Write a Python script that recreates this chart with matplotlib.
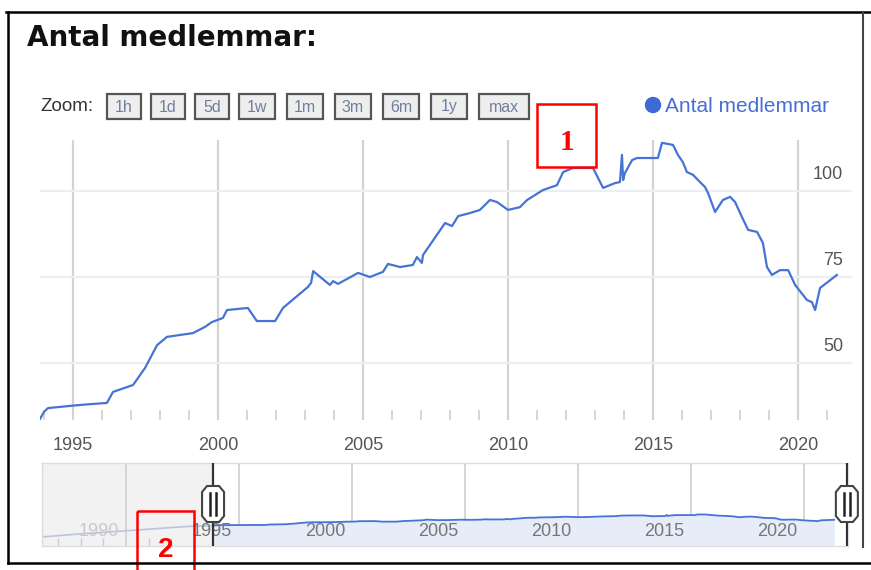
import matplotlib
matplotlib.use("Agg")
import matplotlib.pyplot as plt
from matplotlib.patches import Rectangle, Polygon, Circle

plt.rcParams["font.family"] = ["Liberation Sans", "DejaVu Sans"]

# ---------------- data ----------------
title = "Antal medlemmar:"
series_name = "Antal medlemmar"
zoom_buttons = ["1h", "1d", "5d", "1w", "1m", "3m", "6m", "1y", "max"]

years = [1993.86, 1994.00, 1994.14, 1995.24, 1996.17, 1996.38, 1997.07, 1997.48,
         1997.90, 1998.24, 1999.14, 1999.55, 1999.79, 2000.17, 2000.31, 2001.03,
         2001.34, 2001.97, 2002.24, 2003.10, 2003.21, 2003.28, 2003.86, 2003.97,
         2004.14, 2004.83, 2005.24, 2005.69, 2005.86, 2006.28, 2006.72, 2006.86,
         2007.03, 2007.07, 2007.83, 2008.07, 2008.28, 2008.69, 2009.03, 2009.38,
         2009.62, 2010.00, 2010.41, 2010.66, 2011.21, 2011.69, 2011.90, 2012.24,
         2012.93, 2013.28, 2013.69, 2013.86, 2013.93, 2013.97, 2014.03, 2014.28,
         2014.45, 2015.17, 2015.31, 2015.69, 2015.86, 2016.03, 2016.17, 2016.38,
         2016.62, 2016.79, 2016.90, 2017.14, 2017.41, 2017.66, 2017.83, 2018.07,
         2018.28, 2018.59, 2018.79, 2018.93, 2019.10, 2019.38, 2019.66, 2019.90,
         2020.31, 2020.48, 2020.59, 2020.76, 2021.34]
members = [33.7, 35.8, 36.9, 37.8, 38.4, 41.6, 43.6, 48.5,
           55.2, 57.6, 58.7, 60.5, 61.9, 63.1, 65.4, 66.0,
           62.2, 62.2, 66.0, 72.1, 73.3, 76.7, 72.7, 73.8,
           73.0, 76.2, 75.0, 76.5, 78.8, 77.9, 78.5, 80.8,
           79.1, 81.4, 90.7, 89.8, 92.7, 93.6, 94.5, 97.4,
           96.8, 94.5, 95.3, 97.4, 100.3, 101.7, 105.5, 106.7,
           106.7, 100.9, 102.3, 102.6, 110.5, 103.2, 105.2, 109.0,
           109.6, 109.6, 114.0, 113.4, 110.5, 108.4, 105.5, 104.7,
           102.6, 101.2, 99.4, 93.9, 97.4, 98.3, 96.8, 92.4,
           88.7, 88.1, 84.9, 77.9, 75.6, 77.0, 77.0, 72.7,
           68.3, 67.7, 65.4, 71.8, 75.6]

# navigator overview before the selected range
nav_early_years = [1986.28, 1987.88, 1989.87, 1992.74, 1993.86]
nav_early_values = [-48, -27, -5, 28, 33.7]

major_years = [1995, 2000, 2005, 2010, 2015, 2020]
minor_years = [y for y in range(1994, 2022) if y % 5 != 0]
nav_major_years = [1990, 1995, 2000, 2005, 2010, 2015, 2020]
nav_minor_years = [y for y in range(1987, 2022) if y % 5 != 0]
y_ticks = [50, 75, 100]
sel_start, sel_end = 1993.85, 2021.9

# ---------------- layout ----------------
W, H = 871, 570
fig = plt.figure(figsize=(W / 100, H / 100), dpi=100)
fig.patch.set_facecolor("white")


def rect(l, t, r, b):
    return [l / W, 1 - b / H, (r - l) / W, (b - t) / H]


LINE = "#4673d4"
LABEL = "#555555"

# main chart
ax = fig.add_axes(rect(40, 140, 852, 420))
ax.set_xlim(1993.862, 2021.862)
ax.set_ylim(33.43, 114.83)
for s in ax.spines.values():
    s.set_visible(False)
ax.set_xticks(major_years)
ax.set_xticklabels([str(y) for y in major_years])
ax.set_xticks(minor_years, minor=True)
ax.set_yticks(y_ticks)
ax.set_yticklabels([])
ax.tick_params(axis="y", length=0)
ax.tick_params(axis="x", which="major", length=0, pad=12, labelsize=13,
               labelcolor=LABEL)
ax.tick_params(axis="x", which="minor", direction="in", length=7.5,
               width=1.1, color="#cccccc")
ax.grid(axis="x", which="major", color="#d3d3d3", lw=1.6)
ax.grid(axis="y", which="major", color="#eceef6", lw=1.6)
ax.set_axisbelow(True)
ax.plot(years, members, color=LINE, lw=1.6, solid_joinstyle="round", zorder=3)
for v in y_ticks:
    ax.annotate(str(v), xy=(0.989, v), xycoords=("axes fraction", "data"),
                xytext=(0, 12.2), textcoords="offset points", ha="right",
                va="center", fontsize=13, color=LABEL)

# navigator
nav = fig.add_axes(rect(42, 463, 848, 546))
nav.set_xlim(1986.28, 2021.95)
nav.set_ylim(-113, 484)
for s in nav.spines.values():
    s.set_color("#dddddd")
    s.set_linewidth(1.0)
nav.axvspan(1986.28, sel_start, color="#f2f2f2", zorder=0, lw=0)
nav.set_xticks(nav_major_years)
nav.set_xticklabels([])
nav.set_xticks(nav_minor_years, minor=True)
nav.set_yticks([])
nav.tick_params(axis="x", which="major", length=0)
nav.tick_params(axis="x", which="minor", direction="in", length=5.5,
                width=1.0, color="#cccccc")
nav.grid(axis="x", which="major", color="#d2d2d2", lw=1.3)
nav.set_axisbelow(True)
nav.fill_between(years, members, -113, color="#e6ecf8", lw=0, zorder=1)
nav.plot(years, members, color=LINE, lw=1.3, zorder=2)
nav.plot(nav_early_years, nav_early_values, color="#b9c5de", lw=1.2, zorder=2)
for y in nav_major_years:
    col = "#c9c9c9" if y < sel_start else "#777777"
    nav.annotate(str(y), xy=(y, 0), xycoords=("data", "axes fraction"),
                 xytext=(-5, 10.8), textcoords="offset points", ha="right",
                 va="center", fontsize=13, color=col, zorder=4)
nav.axvline(sel_start, color="#333333", lw=1.6, zorder=5)
nav.axvline(sel_end, color="#333333", lw=1.6, zorder=5)

# overlay in pixel coordinates
ov = fig.add_axes([0, 0, 1, 1])
ov.set_xlim(0, W)
ov.set_ylim(H, 0)
ov.axis("off")
ov.patch.set_alpha(0)

# handles of the navigator
fig.canvas.draw()
for hx in (sel_start, sel_end):
    cx = nav.transData.transform((hx, 0))[0]
    cy = 504
    pts = [(cx - 11, cy - 12), (cx - 6, cy - 18), (cx + 6, cy - 18),
           (cx + 11, cy - 12), (cx + 11, cy + 12), (cx + 6, cy + 18),
           (cx - 6, cy + 18), (cx - 11, cy + 12)]
    ov.add_patch(Polygon(pts, closed=True, fc="white", ec="#444444", lw=1.5,
                         zorder=6))
    for dx in (-3, 3):
        ov.plot([cx + dx, cx + dx], [cy - 11, cy + 11], color="#222222",
                lw=1.8, zorder=7)

# title
ov.text(27, 46, title, fontsize=20, fontweight="bold",
        family="DejaVu Sans", ha="left", va="baseline", color="#111111")

# zoom buttons
ov.text(40, 111, "Zoom:", fontsize=13.5, color="#333333", ha="left",
        va="baseline")
btn_left = 107
for lab in zoom_buttons:
    w = 50 if len(lab) > 2 else (34 if lab in ("1h", "1d", "5d") else 36)
    ov.add_patch(Rectangle((btn_left, 94), w, 25, fc="#eeeeee", ec="#555555",
                           lw=1.6, zorder=3))
    ov.text(btn_left + w / 2, 107, lab, fontsize=11.5, color="#6f7f9c",
            ha="center", va="center", zorder=4)
    btn_left += w + (10 if w < 36 else 12)

# legend
ov.add_patch(Circle((653, 105), 7.5, color="#3d6ad6", zorder=3))
ov.text(665, 112, series_name, fontsize=15, color="#4a6fd4", ha="left",
        va="baseline")

# red annotation boxes
ov.add_patch(Rectangle((537, 104), 59, 63, fill=False, ec="#ff0000", lw=1.8,
                       zorder=8))
ov.text(567, 150, "1", fontsize=21, fontweight="bold", family="Liberation Serif",
        color="#ff0000", ha="center", va="baseline", zorder=8)
ov.add_patch(Rectangle((137, 511), 57, 70, fill=False, ec="#ff0000", lw=1.8,
                       zorder=8, clip_on=False))
ov.text(166, 557, "2", fontsize=20, fontweight="bold", color="#ff0000",
        ha="center", va="baseline", zorder=8)

# outer frame
ov.plot([8, 8], [12, 563], color="black", lw=1.8, zorder=9)
ov.plot([6, 871], [12, 12], color="black", lw=1.8, zorder=9)
ov.plot([8, 871], [563, 563], color="black", lw=1.8, zorder=9)
ov.plot([863, 863], [12, 547], color="#444444", lw=1.5, zorder=9)

fig.savefig("out.png", dpi=100, facecolor="white")
